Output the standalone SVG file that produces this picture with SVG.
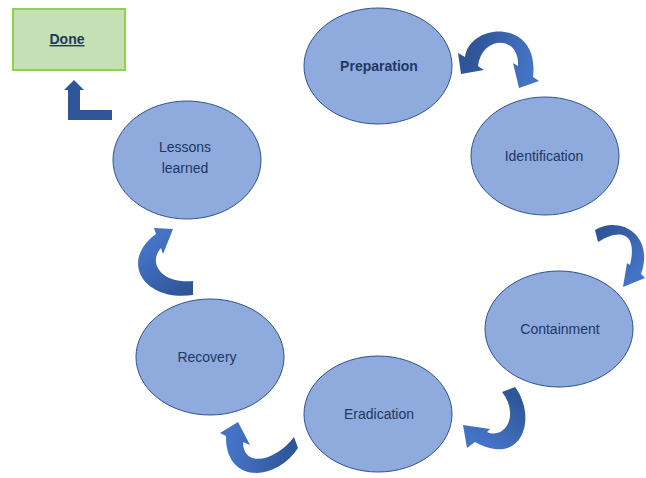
<svg xmlns="http://www.w3.org/2000/svg" width="646" height="478" viewBox="0 0 646 478">
  <defs>
    <style>
      .stage { fill: #8faadc; stroke: #2f528f; stroke-width: 1; }
      .label { font-family: "Liberation Sans", Arial, sans-serif; font-size: 14px; fill: #203864; text-anchor: middle; }
      .bold { font-weight: bold; }
      .dark { fill: #2f5597; }
    </style>
    <linearGradient id="g1" gradientUnits="userSpaceOnUse" x1="471" y1="61" x2="526" y2="72">
      <stop offset="0" stop-color="#2f5597"/><stop offset="1" stop-color="#4472c4"/>
    </linearGradient>
    <linearGradient id="g2" gradientUnits="userSpaceOnUse" x1="597" y1="236" x2="636" y2="270">
      <stop offset="0" stop-color="#2f5597"/><stop offset="1" stop-color="#4472c4"/>
    </linearGradient>
    <linearGradient id="g3" gradientUnits="userSpaceOnUse" x1="508" y1="389" x2="478" y2="438">
      <stop offset="0" stop-color="#2f5597"/><stop offset="1" stop-color="#4472c4"/>
    </linearGradient>
    <linearGradient id="g4" gradientUnits="userSpaceOnUse" x1="293" y1="443" x2="235" y2="439">
      <stop offset="0" stop-color="#2f5597"/><stop offset="1" stop-color="#4472c4"/>
    </linearGradient>
    <linearGradient id="g5" gradientUnits="userSpaceOnUse" x1="193" y1="288" x2="158" y2="241">
      <stop offset="0" stop-color="#2f5597"/><stop offset="1" stop-color="#4472c4"/>
    </linearGradient>
  </defs>

  <rect width="646" height="478" fill="#ffffff"/>

  <!-- stages of the cycle -->
  <g id="done">
    <rect x="13" y="9" width="112" height="61" fill="#c5e0b4" stroke="#92d050" stroke-width="2"/>
    <text class="label bold" x="67" y="44" text-decoration="underline">Done</text>
  </g>
  <g id="preparation">
    <ellipse class="stage" cx="378" cy="66" rx="74" ry="58"/>
    <text class="label bold" x="379" y="71">Preparation</text>
  </g>
  <g id="identification">
    <ellipse class="stage" cx="545" cy="156" rx="74" ry="59"/>
    <text class="label" x="544" y="161">Identification</text>
  </g>
  <g id="containment">
    <ellipse class="stage" cx="559" cy="329" rx="74" ry="58"/>
    <text class="label" x="560" y="334">Containment</text>
  </g>
  <g id="eradication">
    <ellipse class="stage" cx="378" cy="414" rx="74" ry="58"/>
    <text class="label" x="379" y="419">Eradication</text>
  </g>
  <g id="recovery">
    <ellipse class="stage" cx="210" cy="357" rx="74" ry="58"/>
    <text class="label" x="207" y="362">Recovery</text>
  </g>
  <g id="lessons">
    <ellipse class="stage" cx="187" cy="160" rx="74" ry="59"/>
    <text class="label" x="185" y="152">Lessons</text>
    <text class="label" x="185" y="173">learned</text>
  </g>

  <!-- curved block arrows between stages -->
  <g id="connectors">
    <!-- preparation <-> identification (double-headed) -->
    <path fill="url(#g1)" d="M478,66 L484,70 L461,74 L458,53 L465,57 C470,22 540,18 533,77 L539,81 L519,88 L513,63 L518,66 C520,35 482,35 478,66 Z"/>

    <!-- identification -> containment -->
    <path fill="url(#g2)" d="M598,242 L595,230 C620,215 655,235 641,274 L645,278 L623,287 L627,263 L630,265 C638,232 620,228 598,242 Z"/>

    <!-- containment -> eradication -->
    <path fill="url(#g3)" d="M502,392 L515,387 C538,418 522,468 475,442 L467,448 L463,425 L490,429 L487,432 C505,440 520,415 502,392 Z"/>

    <!-- eradication -> recovery -->
    <path fill="url(#g4)" d="M294,437 L298,448 C275,483 225,483 226,436 L220,433 L238,422 L250,445 L243,442 C243,468 275,462 294,437 Z"/>

    <!-- recovery -> lessons learned -->
    <path fill="url(#g5)" d="M193,281 L193,295 C145,302 118,262 156,234 L154,228 L173,229 L163,254 L161,248 C148,262 160,284 193,281 Z"/>

    <!-- lessons learned -> done (bent arrow) -->
    <polygon class="dark" points="74,80 84,90 80,90 80,110 112,110 112,120 68,120 68,90 64,90"/>
  </g>
</svg>
